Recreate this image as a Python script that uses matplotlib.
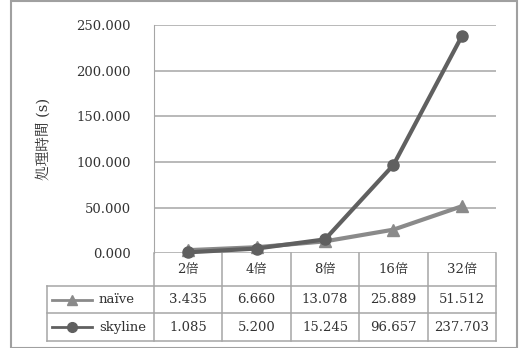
import numpy as np
import matplotlib.pyplot as plt
from matplotlib.lines import Line2D
from matplotlib.patches import Rectangle
import matplotlib.transforms as mtransforms

plt.rcParams['font.family'] = ['DejaVu Serif', 'Noto Serif CJK JP', 'Noto Sans CJK JP']

categories = ['2倍', '4倍', '8倍', '16倍', '32倍']
naive = [3.435, 6.660, 13.078, 25.889, 51.512]
skyline = [1.085, 5.200, 15.245, 96.657, 237.703]
series_names = ['naïve', 'skyline']
yticks = [0, 50, 100, 150, 200, 250]

W, H = 519, 348
grid_c = '#a6a6a6'
naive_c = '#8a8a8a'
sky_c = '#606060'
txt_c = '#333333'
fs = 9.5

fig = plt.figure(figsize=(W / 100, H / 100), dpi=100)

# pixel helpers (origin top-left)
def fx(px):
    return px / W

def fy(py):
    return 1 - py / H

left, right, top, zero = 154, 496, 25, 253.3
ax = fig.add_axes([fx(left), fy(zero), fx(right - left), fy(top) - fy(zero)])
ax.set_xlim(-0.5, len(categories) - 0.5)
ax.set_ylim(0, 250)
for s in ax.spines.values():
    s.set_visible(False)
ax.spines['left'].set_visible(True)
ax.spines['left'].set_color(grid_c)
ax.set_xticks([])
ax.set_yticks(yticks)
ax.set_yticklabels(['%.3f' % v for v in yticks], fontsize=fs, color=txt_c)
ax.tick_params(axis='y', length=0, pad=16.5)
ax.yaxis.grid(True, color=grid_c, linewidth=1.1)
ax.set_axisbelow(True)
ax.set_ylabel('処理時間 (s)', fontsize=10.5, color=txt_c, labelpad=19)

x = np.arange(len(categories))
ax.plot(x, naive, color=naive_c, linewidth=3, marker='^', markersize=8, clip_on=False, zorder=3)
ax.plot(x, skyline, color=sky_c, linewidth=3, marker='o', markersize=8, clip_on=False, zorder=4)

# data table under the plot
trans = mtransforms.blended_transform_factory(ax.transData, fig.transFigure)
row_y = [zero, 286, 313.3, 341]
leg_left = 46.7
edges = np.arange(len(categories) + 1) - 0.5

lw = 1.1
# horizontal lines
for i, py in enumerate(row_y):
    if i == 0:
        continue
    fig.add_artist(Line2D([fx(leg_left), fx(right)], [fy(py), fy(py)], color=grid_c, lw=lw))
# vertical category separators
for e in edges:
    ax.add_line(Line2D([e, e], [fy(row_y[0]), fy(row_y[-1])], transform=trans, color=grid_c, lw=lw, clip_on=False))
fig.add_artist(Line2D([fx(leg_left), fx(leg_left)], [fy(row_y[1]), fy(row_y[-1])], color=grid_c, lw=lw))

for i, c in enumerate(categories):
    ax.text(i, fy((row_y[0] + row_y[1]) / 2), c, transform=trans, ha='center', va='center',
            fontsize=fs, color=txt_c)
for r, vals in enumerate([naive, skyline]):
    yc = fy((row_y[r + 1] + row_y[r + 2]) / 2)
    for i, v in enumerate(vals):
        ax.text(i, yc, '%.3f' % v, transform=trans, ha='center', va='center', fontsize=fs, color=txt_c)

# legend keys inside the table
for r, (name, col, mk) in enumerate(zip(series_names, [naive_c, sky_c], ['^', 'o'])):
    yc = fy((row_y[r + 1] + row_y[r + 2]) / 2)
    fig.add_artist(Line2D([fx(52), fx(92)], [yc, yc], color=col, lw=2))
    fig.add_artist(Line2D([fx(72)], [yc], color=col, marker=mk, markersize=7, lw=0))
    fig.text(fx(99), yc, name, ha='left', va='center', fontsize=fs, color=txt_c)

# chart border
fig.add_artist(Rectangle((fx(11), fy(348)), fx(506), fy(1) - fy(348), fill=False,
                         edgecolor='#a0a0a0', lw=1.5))

fig.savefig('out.png', dpi=100)
